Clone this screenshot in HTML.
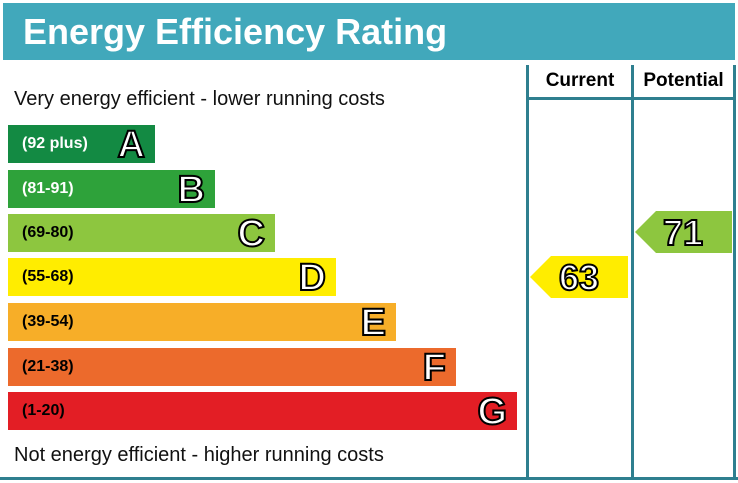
<!DOCTYPE html>
<html><head><style>
body{margin:0;width:738px;height:483px;background:#fff;position:relative;overflow:hidden;font-family:"Liberation Sans",sans-serif}
.hdr{position:absolute;left:3px;top:3px;width:732px;height:57px;background:#41a8bb;color:#fff;font-weight:bold;font-size:36px;line-height:57px;padding-left:20px;box-sizing:border-box}
.l{position:absolute;background:#2e7f8f}
.t{position:absolute;font-size:20px;color:#111}
.bar{position:absolute;left:8px;height:38px}
.bar span{position:absolute;left:14px;top:0;line-height:38px;font-weight:bold;font-size:16px}
.bar b{position:absolute;right:10px;top:0;line-height:40px;font-size:38px;color:#fff;-webkit-text-stroke:2px #000;font-weight:bold}
.hd{position:absolute;top:70px;font-weight:bold;font-size:19px;text-align:center}
</style></head><body>
<div class="hdr">Energy Efficiency Rating</div>
<div class="l" style="left:526px;top:65px;width:3px;height:414px"></div>
<div class="l" style="left:631px;top:65px;width:3px;height:414px"></div>
<div class="l" style="left:733px;top:65px;width:3px;height:414px"></div>
<div class="l" style="left:526px;top:97px;width:210px;height:3px"></div>
<div class="l" style="left:0;top:477px;width:738px;height:3px"></div>
<div class="hd" style="left:529px;width:102px">Current</div>
<div class="hd" style="left:634px;width:99px">Potential</div>
<div class="t" style="left:14px;top:88px">Very energy efficient - lower running costs</div>
<div class="t" style="left:14px;top:444px">Not energy efficient - higher running costs</div>
<div class="bar" style="top:125px;width:147px;background:#138a43"><span style="color:#fff">(92 plus)</span><b>A</b></div>
<div class="bar" style="top:170px;width:207px;background:#2ea23a"><span style="color:#fff">(81-91)</span><b>B</b></div>
<div class="bar" style="top:214px;width:267px;background:#8dc63f"><span>(69-80)</span><b>C</b></div>
<div class="bar" style="top:258px;width:328px;background:#ffed00"><span>(55-68)</span><b>D</b></div>
<div class="bar" style="top:303px;width:388px;background:#f7ae28"><span>(39-54)</span><b>E</b></div>
<div class="bar" style="top:348px;width:448px;background:#ec6a2c"><span>(21-38)</span><b>F</b></div>
<div class="bar" style="top:392px;width:509px;background:#e31e25"><span>(1-20)</span><b>G</b></div>
<svg style="position:absolute;left:0;top:0" width="738" height="483">
<polygon points="530,277 551,256 628,256 628,298 551,298" fill="#ffed00"/>
<polygon points="635,232 656,211 732,211 732,253 656,253" fill="#8dc63f"/>
<g font-family="Liberation Sans, sans-serif" font-weight="bold" font-size="36" fill="#fff" stroke="#000" stroke-width="2" text-anchor="middle">
<text x="579" y="290">63</text>
<text x="683" y="245">71</text>
</g>
</svg>
</body></html>
